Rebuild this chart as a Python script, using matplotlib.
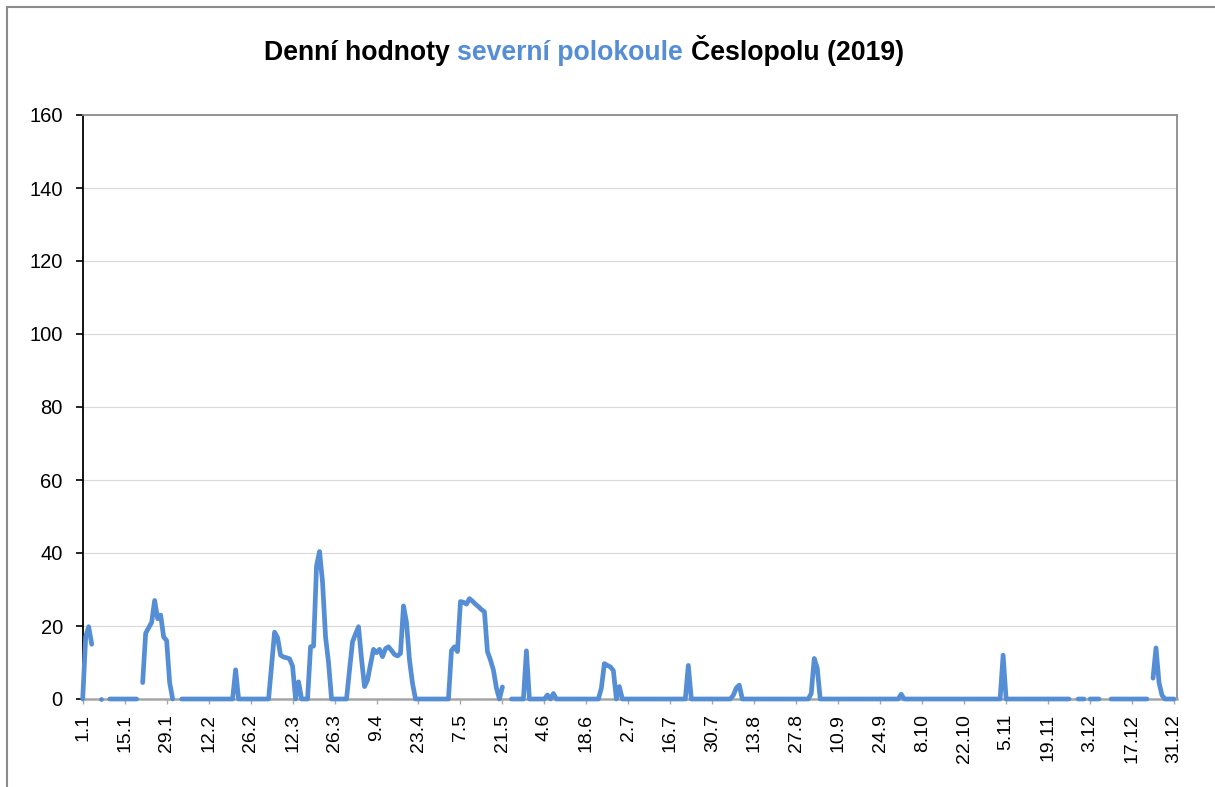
import numpy as np
import matplotlib
matplotlib.use('Agg')
from matplotlib import pyplot as plt
from matplotlib.lines import Line2D
from matplotlib.offsetbox import TextArea, HPacker, AnnotationBbox

plt.rcParams['font.family'] = ['Liberation Sans', 'DejaVu Sans']

nan = np.nan

# daily values for 2019, one row = 14 days (row starts at the tick date)
values = [
    0, 17, 19.8, 15, nan, nan, 0, nan, nan, 0, 0, 0, 0, 0,                  # 1.1
    0, 0, 0, 0, 0, nan, 4.5, 18, 19.5, 21, 27, 22, 23, 17,                  # 15.1
    16, 4.5, 0, nan, nan, 0, 0, 0, 0, 0, 0, 0, 0, 0,                        # 29.1
    0, 0, 0, 0, 0, 0, 0, 0, 0, 8, 0, 0, 0, 0,                               # 12.2
    0, 0, 0, 0, 0, 0, 0, 9, 18.3, 16.8, 12, 11.5, 11.3, 11,                 # 26.2
    9, 0, 4.7, 0, 0, 0, 14.3, 14.5, 36.5, 40.4, 32, 17, 10, 0,              # 12.3
    0, 0, 0, 0, 0, 8, 15.7, 17.8, 19.8, 11, 3.4, 5.2, 9.5, 13.6,            # 26.3
    12.7, 13.6, 11.6, 13.8, 14.3, 13.3, 12.2, 11.8, 12.5, 25.5, 21, 10.7, 4.3, 0,  # 9.4
    0, 0, 0, 0, 0, 0, 0, 0, 0, 0, 0, 13.3, 14.3, 13,                        # 23.4
    26.7, 26.5, 26, 27.5, 26.8, 26, 25.3, 24.5, 23.9, 13, 10.7, 7.9, 3, 0,  # 7.5
    3.3, nan, nan, 0, 0, 0, 0, 0, 13.2, 0, 0, 0, 0, 0,                      # 21.5
    0, 1.1, 0, 1.5, 0, 0, 0, 0, 0, 0, 0, 0, 0, 0,                           # 4.6
    0, 0, 0, 0, 0, 3, 9.7, 9.2, 8.8, 7.8, 0, 3.4, 0, 0,                     # 18.6
    0, 0, 0, 0, 0, 0, 0, 0, 0, 0, 0, 0, 0, 0,                               # 2.7
    0, 0, 0, 0, 0, 0, 9.2, 0, 0, 0, 0, 0, 0, 0,                             # 16.7
    0, 0, 0, 0, 0, 0, 0, 1, 3, 3.8, 0, 0, 0, 0,                             # 30.7
    0, 0, 0, 0, 0, 0, 0, 0, 0, 0, 0, 0, 0, 0,                               # 13.8
    0, 0, 0, 0, 0, 1.5, 11.1, 8.5, 0, 0, 0, 0, 0, 0,                        # 27.8
    0, 0, 0, 0, 0, 0, 0, 0, 0, 0, 0, 0, 0, 0,                               # 10.9
    0, 0, 0, 0, 0, 0, 0, 1.3, 0, 0, 0, 0, 0, 0,                             # 24.9
    0, 0, 0, 0, 0, 0, 0, 0, 0, 0, 0, 0, 0, 0,                               # 8.10
    0, 0, 0, 0, 0, 0, 0, 0, 0, 0, 0, 0, 0, 12,                              # 22.10
    0, 0, 0, 0, 0, 0, 0, 0, 0, 0, 0, 0, 0, 0,                               # 5.11
    0, 0, 0, 0, 0, 0, 0, 0, nan, nan, 0, 0, 0, nan,                         # 19.11
    0, 0, 0, 0, nan, nan, nan, 0, 0, 0, 0, 0, 0, 0,                         # 3.12
    0, 0, 0, 0, 0, 0, nan, 5.7, 14, 4.5, 1, 0, 0, 0,                        # 17.12
    0,                                                                      # 31.12
]

tick_labels = ['1.1', '15.1', '29.1', '12.2', '26.2', '12.3', '26.3', '9.4',
               '23.4', '7.5', '21.5', '4.6', '18.6', '2.7', '16.7', '30.7',
               '13.8', '27.8', '10.9', '24.9', '8.10', '22.10', '5.11',
               '19.11', '3.12', '17.12', '31.12']
y_ticks = [0, 20, 40, 60, 80, 100, 120, 140, 160]

title_parts = ['Denní hodnoty', 'severní polokoule', 'Česlopolu (2019)']

blue = '#558ED5'


def execute():
    y = np.array(values, dtype=float)
    days = np.arange(len(y))

    fig = plt.figure(figsize=(12.15, 7.87), dpi=100)
    ax = fig.add_axes([82.7 / 1215, 88 / 787, 1094.3 / 1215, 584 / 787])

    ax.plot(days, y, color=blue, lw=3.4, solid_capstyle='round',
            solid_joinstyle='round', clip_on=False, zorder=4)

    # single days between gaps are drawn as dots
    prev = np.concatenate([[np.nan], y[:-1]])
    nxt = np.concatenate([y[1:], [np.nan]])
    lone = ~np.isnan(y) & np.isnan(prev) & np.isnan(nxt)
    ax.plot(days[lone], y[lone], 'o', color=blue, ms=3.4, mew=0,
            clip_on=False, zorder=4)

    ax.set_xlim(0, 365)
    ax.set_ylim(0, 160)
    ax.set_yticks(y_ticks)
    ax.set_xticks(days[::14])
    ax.set_xticklabels(tick_labels, rotation=90, fontsize=14)
    ax.tick_params(axis='y', labelsize=14.5, length=4.8, width=1.2,
                   pad=9.5, color='black')
    ax.tick_params(axis='x', length=3.6, width=1, pad=7, color='#A6A6A6')

    ax.grid(axis='y', color='#D9D9D9', lw=0.8)
    ax.set_axisbelow(True)

    ax.spines['left'].set_color('black')
    ax.spines['left'].set_linewidth(1.3)
    ax.spines['bottom'].set_color('#A6A6A6')
    ax.spines['bottom'].set_linewidth(1.8)
    for side in ['top', 'right']:
        ax.spines[side].set_color('#8C8C8C')
        ax.spines[side].set_linewidth(1.3)

    # title with coloured middle part
    colors = ['black', blue, 'black']
    boxes = [TextArea(s, textprops=dict(color=c, fontsize=19.2,
                                        fontweight='bold'))
             for s, c in zip(title_parts, colors)]
    pack = HPacker(children=boxes, align='baseline', pad=0, sep=5.3)
    ab = AnnotationBbox(pack, (584 / 1215, 1 - 51 / 787),
                        xycoords='figure fraction', frameon=False,
                        box_alignment=(0.5, 0.5))
    fig.add_artist(ab)

    # chart border (left and top edge visible)
    x0, y0 = 6.5 / 1215, 1 - 6.5 / 787
    fig.add_artist(Line2D([x0, x0], [0, y0], color='#8C8C8C', lw=1.5))
    fig.add_artist(Line2D([x0, 1], [y0, y0], color='#8C8C8C', lw=1.5))

    fig.savefig('out.png', dpi=100)


if __name__ == '__main__':
    execute()
